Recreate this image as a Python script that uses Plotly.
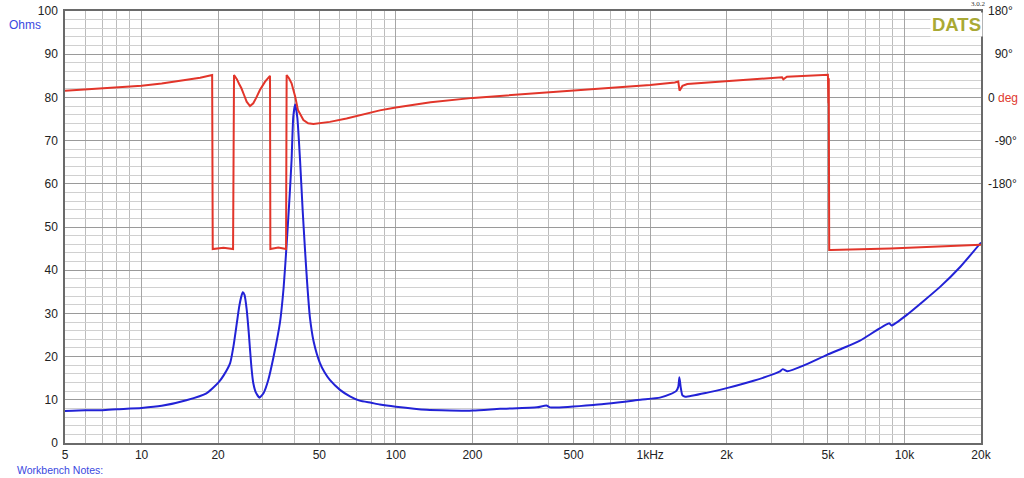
import plotly.graph_objects as go

# ---------------- data ----------------
imp_freq = [5, 6, 7, 8, 10, 12, 15, 18, 20, 21, 22.3, 23.0, 23.7, 24.2, 24.7, 25.0, 25.4,
            25.9, 26.4, 27.0, 27.5, 28.2, 29.1, 30.2, 31.5, 33.0, 35.0, 36.2, 37.2,
            38.2, 38.9, 39.5, 40.2, 41.0, 42.0, 43.0, 43.9, 44.8, 45.9, 47.5, 50.3,
            52.5, 55, 60.3, 66, 72, 80, 86.5, 100, 132, 201, 257, 359, 391, 404,
            598, 916, 1093, 1200, 1265, 1290, 1303, 1318, 1340, 1373, 1666, 2000,
            2550, 3226, 3322, 3470, 4005, 4956, 5756, 6685, 8715, 8900, 10190,
            13840, 16590, 20000]
imp_ohm = [7.4, 7.6, 7.6, 7.8, 8.1, 8.6, 9.9, 11.5, 13.9, 15.6, 18.5, 22.5, 27.8, 31.5,
           34.0, 34.9, 34.3, 31.0, 25.5, 18.0, 13.9, 11.6, 10.5, 11.6, 14.6, 19.8,
           27.8, 36.0, 46.0, 57.0, 65.5, 75.5, 78.4, 75.2, 65.5, 54.0, 45.0, 37.0,
           29.2, 23.5, 18.5, 16.3, 14.6, 12.3, 10.8, 9.8, 9.3, 8.9, 8.4, 7.7, 7.5,
           7.9, 8.25, 8.7, 8.25, 8.8, 10.0, 10.5, 11.3, 12.0, 13.0, 15.2, 13.0,
           11.0, 10.7, 11.6, 12.7, 14.4, 16.5, 17.1, 16.6, 17.9, 20.4, 22.0, 23.7,
           27.7, 27.2, 29.6, 36.2, 40.8, 46.4]

phase_freq = [5, 7, 10, 12, 15, 17, 18.95, 19.05, 21, 22.9, 23.1, 23.7, 24.2, 24.7,
              25.3, 25.9, 26.7, 27.5, 28.3, 29.2, 30.6, 32.0, 32.1, 34.5, 37.0,
              37.2, 38.0, 38.9, 40.2, 41.2, 43.3, 45.2, 47.4, 55, 64, 86.5, 100,
              137, 201, 289, 404, 635, 835, 1000, 1250, 1290, 1305, 1340, 1400,
              2000, 3300, 3340, 3450, 5000, 5025, 5040, 5060, 5130, 8700, 8800, 20000]
phase_deg = [14, 19, 24.4, 29, 36, 41, 46.7, -316, -313.5, -316, 46.7, 38, 28, 19,
             5, -9, -18, -12.3, 0, 15.4, 32.7, 45, -316, -313, -316, 46.7, 40,
             29.4, 1.5, -26, -47, -54, -55.4, -51, -44, -27, -21, -10, -1, 5,
             9.8, 17.5, 22.3, 25.8, 31, 33, 14, 24, 28, 34, 42, 37.7, 43, 47,
             -12, 40, -318, -318, -314, -315, -307]

x_tickvals = [5, 10, 20, 50, 100, 200, 500, 1000, 2000, 5000, 10000, 20000]
x_ticktext = ["5", "10", "20", "50", "100", "200", "500", "1kHz", "2k", "5k", "10k", "20k"]
x_minor = [6, 7, 8, 9, 30, 40, 60, 70, 80, 90, 300, 400, 600, 700, 800, 900,
           3000, 4000, 6000, 7000, 8000, 9000]

ph_tickvals = [180, 90, 0, -90, -180]
ph_ticktext = ["180°", "\u200790°", "0 <span style='color:#e03a2e'>deg</span>", "\u2007-90°", "-180°"]

RED = "#e2352a"
BLUE = "#2222d6"
TXT_BLUE = "#3a48e0"
FONT = "Liberation Sans, Arial, sans-serif"

fig = go.Figure()
fig.add_trace(go.Scatter(x=imp_freq, y=imp_ohm, mode="lines",
                         line=dict(color=BLUE, width=2, shape="spline", smoothing=0.5),
                         name="Impedance"))
fig.add_trace(go.Scatter(x=phase_freq, y=phase_deg, mode="lines", yaxis="y2",
                         line=dict(color=RED, width=2), name="Phase"))

fig.update_layout(
    width=1024, height=478,
    margin=dict(l=65, r=43, t=11, b=35, autoexpand=False),
    paper_bgcolor="white", plot_bgcolor="white",
    showlegend=False,
    font=dict(family=FONT, size=12, color="#222"),
    xaxis=dict(type="log", range=[0.69897, 4.30103], automargin=False,
               tickvals=x_tickvals, ticktext=x_ticktext,
               showgrid=True, gridcolor="#a6a6a6", gridwidth=1,
               minor=dict(tickvals=x_minor, showgrid=True, gridcolor="#bcbcbc", gridwidth=1, ticks=""),
               showline=True, linecolor="#6a6a6a", linewidth=1.5, mirror=True,
               ticks="", zeroline=False, tickfont=dict(size=12, color="#222")),
    yaxis=dict(range=[0, 100], tick0=0, dtick=10, automargin=False,
               showgrid=True, gridcolor="#9a9a9a", gridwidth=1,
               minor=dict(dtick=2, showgrid=True, gridcolor="#d0d0d0", gridwidth=1, ticks=""),
               showline=True, linecolor="#6a6a6a", linewidth=1.5, mirror=True,
               ticks="", zeroline=False, tickfont=dict(size=12, color="#222"),
               ticklabelstandoff=3),
    yaxis2=dict(range=[-720, 180], overlaying="y", side="right", automargin=False,
                tickvals=ph_tickvals, ticktext=ph_ticktext,
                showgrid=False, zeroline=False, showline=False, ticks="",
                tickfont=dict(size=12, color="#222"), ticklabelstandoff=6),
    annotations=[
        dict(text="Ohms", xref="paper", yref="paper", x=-0.0633, y=0.9676,
             xanchor="left", yanchor="middle",
             showarrow=False, font=dict(size=12, color=TXT_BLUE, family=FONT)),
        dict(text="<b>DATS</b>", xref="paper", yref="paper", x=1.002, y=0.998,
             xanchor="right", yanchor="top", showarrow=False, bgcolor="white",
             borderpad=1, font=dict(size=18.5, color="#a9a935", family=FONT)),
        dict(text="3.0.2", xref="paper", yref="paper", x=1.0075, y=1.003,
             xanchor="right", yanchor="bottom", showarrow=False,
             font=dict(size=7, color="#333", family="Liberation Serif, serif")),
        dict(text="Workbench Notes:", xref="paper", yref="paper", x=-0.0546, y=-0.0625,
             xanchor="left", yanchor="middle", showarrow=False,
             font=dict(size=10.5, color=TXT_BLUE, family=FONT)),
    ],
)

fig.write_html("out.html", config={"displayModeBar": False},
               post_script="document.body.style.margin='0';document.body.style.overflow='hidden';")
